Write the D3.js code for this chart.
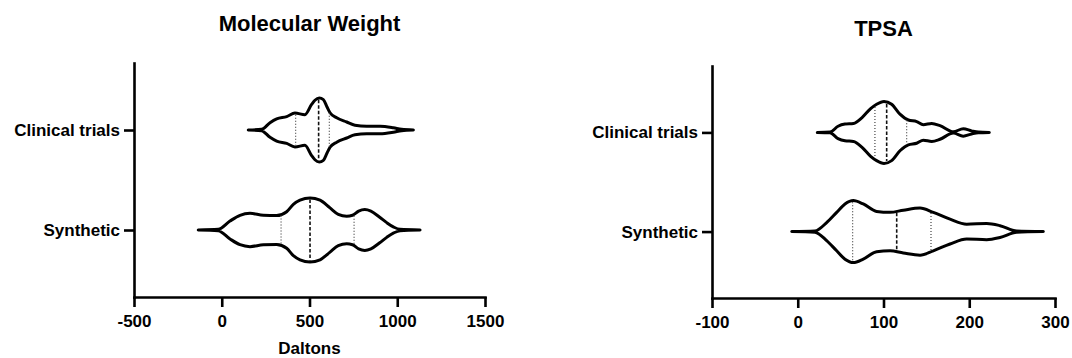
<!DOCTYPE html>
<html>
<head>
<meta charset="utf-8">
<script src="https://cdn.jsdelivr.net/npm/d3@7"></script>
<style>
  body { margin: 0; background: #fff; }
  text { font-family: "Liberation Sans", Arial, Helvetica, sans-serif; font-weight: bold; fill: #000; }
</style>
</head>
<body>
<svg id="chart" width="1072" height="358"></svg>
<script>
// Categories and tick values
const categories = ["Clinical trials", "Synthetic"];
const mwTicks = [-500, 0, 500, 1000, 1500];
const tpsaTicks = [-100, 0, 100, 200, 300];

// Molecular weight (Daltons): kernel density outline, relative density (peak = 1)
const mwClinicalX = [151, 227, 275, 313, 370, 417, 474, 512, 531, 556, 579, 600, 617, 655, 712, 759, 826, 902, 978, 1025, 1092];
const mwClinicalD = [0, 0.02, 0.23, 0.35, 0.42, 0.53, 0.48, 0.80, 0.93, 1, 0.95, 0.72, 0.54, 0.38, 0.25, 0.15, 0.12, 0.12, 0.07, 0.02, 0];
const mwClinicalQ = [421, 552, 613];

const mwSyntheticX = [-134, -20, 47, 104, 161, 237, 313, 370, 408, 446, 503, 560, 617, 664, 712, 745, 780, 815, 850, 900, 940, 980, 1016, 1130];
const mwSyntheticD = [0, 0.02, 0.28, 0.46, 0.52, 0.46, 0.45, 0.57, 0.80, 0.93, 1, 0.93, 0.69, 0.49, 0.43, 0.46, 0.59, 0.64, 0.59, 0.40, 0.23, 0.09, 0.02, 0];
const mwSyntheticQ = [338, 503, 754];

// TPSA: kernel density outline, relative density (peak = 1)
const tpsaClinicalX = [22.8, 37.6, 47, 55, 65, 75, 85, 92, 100.6, 109.5, 119.2, 129, 138.7, 146.4, 156.2, 165.9, 181.4, 193, 202.8, 210.6, 223.4];
const tpsaClinicalD = [0, 0.01, 0.20, 0.27, 0.29, 0.48, 0.77, 0.91, 1, 0.91, 0.59, 0.40, 0.35, 0.25, 0.29, 0.22, 0.02, 0.12, 0.05, 0.01, 0];
const tpsaClinicalQ = [90, 103.7, 127];

const tpsaSyntheticX = [-7, 20, 33.7, 45.4, 55.1, 64.8, 76.4, 92, 107.6, 123.1, 142.6, 158.1, 177.6, 197, 220.3, 235.9, 255.3, 286.4];
const tpsaSyntheticD = [0, 0.02, 0.29, 0.62, 0.89, 1, 0.89, 0.65, 0.62, 0.69, 0.76, 0.62, 0.40, 0.24, 0.26, 0.19, 0.02, 0];
const tpsaSyntheticQ = [64, 115.4, 155.4];

const svg = d3.select("#chart");

function drawPanel(cfg) {
  const x = d3.scaleLinear().domain(cfg.domain).range([cfg.left, cfg.right]);
  const y = d3.scalePoint().domain(categories).range([cfg.top, cfg.bottom]).padding(0.67);
  const w = d3.scaleLinear().domain([0, 1]).range([0, cfg.maxHalfWidth]);

  const g = svg.append("g");

  // violins
  cfg.violins.forEach(v => {
    const cy = y(v.category);
    const pts = v.xs.map((xv, i) => ({ x: xv, d: v.ds[i] }));
    const area = d3.area()
      .x(p => x(p.x))
      .y0(p => cy + w(p.d))
      .y1(p => cy - w(p.d))
      .curve(d3.curveMonotoneX);
    g.append("path")
      .attr("d", area(pts))
      .attr("fill", "#fff")
      .attr("stroke", "#000")
      .attr("stroke-width", 3)
      .attr("stroke-linejoin", "round");

    // quartile (dotted) and median (dashed) lines
    const densityAt = d3.scaleLinear().domain(v.xs).range(v.ds).clamp(true);
    v.q.forEach((qv, i) => {
      const hw = Math.max(0, w(densityAt(qv)) - 1.5);
      g.append("line")
        .attr("x1", x(qv)).attr("x2", x(qv))
        .attr("y1", cy - hw).attr("y2", cy + hw)
        .attr("stroke", i === 1 ? "#111" : "#444")
        .attr("stroke-width", i === 1 ? 1.6 : 1.2)
        .attr("stroke-dasharray", i === 1 ? "3.5,2" : "1,2");
    });
  });

  // x axis
  const xa = g.append("g")
    .attr("transform", `translate(0,${cfg.bottom})`)
    .call(d3.axisBottom(x).tickValues(cfg.ticks).tickFormat(d => String(d))
      .tickSize(10).tickSizeOuter(0).tickPadding(8));
  // y axis
  const ya = g.append("g")
    .attr("transform", `translate(${cfg.left},0)`)
    .call(d3.axisLeft(y).tickSize(10).tickSizeOuter(0).tickPadding(4));

  [xa, ya].forEach(a => {
    a.attr("font-size", 17).attr("font-family", null);
    a.select(".domain").attr("stroke-width", 2.6).attr("stroke-linecap", "square");
    a.selectAll(".tick line").attr("stroke-width", 2.6);
    a.selectAll(".tick text").attr("fill", "#000");
  });

  // title
  g.append("text")
    .attr("x", (cfg.left + cfg.right) / 2)
    .attr("y", cfg.titleY)
    .attr("text-anchor", "middle")
    .attr("font-size", 22)
    .text(cfg.title);

  if (cfg.xLabel) {
    g.append("text")
      .attr("x", (cfg.left + cfg.right) / 2)
      .attr("y", 354)
      .attr("text-anchor", "middle")
      .attr("font-size", 17)
      .text(cfg.xLabel);
  }
}

drawPanel({
  left: 134, right: 485, top: 63, bottom: 297,
  domain: [-500, 1500], ticks: mwTicks,
  title: "Molecular Weight", titleY: 31, xLabel: "Daltons",
  maxHalfWidth: 32,
  violins: [
    { category: "Clinical trials", xs: mwClinicalX, ds: mwClinicalD, q: mwClinicalQ },
    { category: "Synthetic", xs: mwSyntheticX, ds: mwSyntheticD, q: mwSyntheticQ }
  ]
});

drawPanel({
  left: 712, right: 1055, top: 66, bottom: 298,
  domain: [-100, 300], ticks: tpsaTicks,
  title: "TPSA", titleY: 36, xLabel: null,
  maxHalfWidth: 31,
  violins: [
    { category: "Clinical trials", xs: tpsaClinicalX, ds: tpsaClinicalD, q: tpsaClinicalQ },
    { category: "Synthetic", xs: tpsaSyntheticX, ds: tpsaSyntheticD, q: tpsaSyntheticQ }
  ]
});
</script>
</body>
</html>
